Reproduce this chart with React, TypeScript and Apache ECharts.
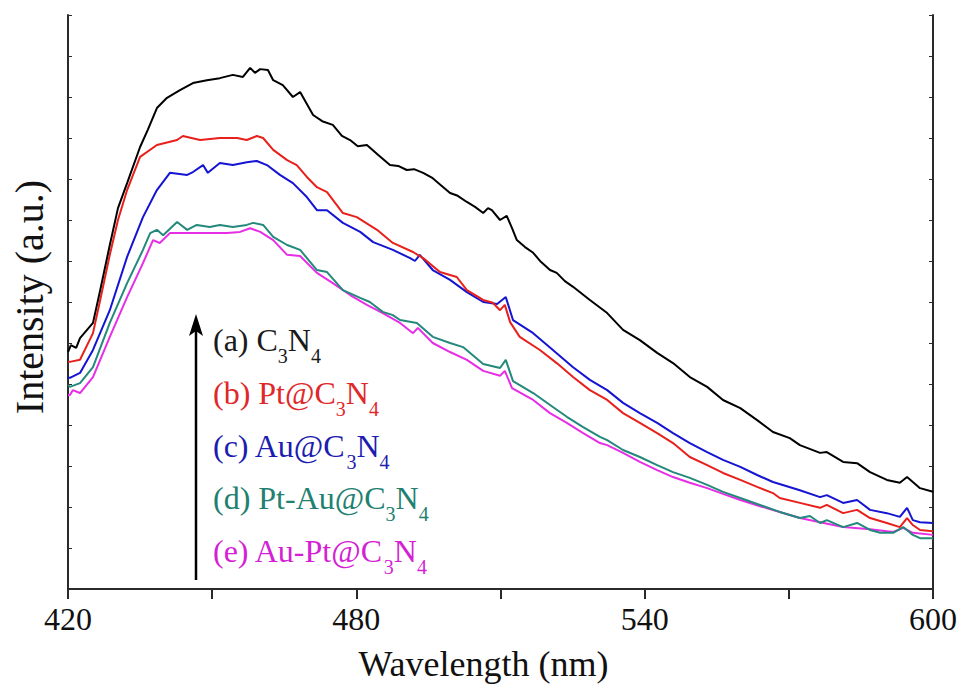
import React, { useEffect, useRef } from 'react';
import * as echarts from 'echarts';

// x-axis tick labels (nm)
const xTickLabels = [420, 480, 540, 600];

// series labels
const seriesLabels = ['(a) C3N4', '(b) Pt@C3N4', '(c) Au@C3N4', '(d) Pt-Au@C3N4', '(e) Au-Pt@C3N4'];

// (a) C3N4
const wlA = [420, 420.6, 421.7, 422.5, 425.2, 426.7, 428.7, 430.4, 432.3, 435.0, 436.6, 438.5, 440.6, 443.3, 446.0, 448.9, 451.6, 454.3, 456.4, 457.9, 458.9, 460.0, 461.6, 462.7, 464.7, 466.8, 468.3, 471.0, 472.9, 475.1, 477.0, 478.7, 480.3, 482.2, 484.5, 487.0, 488.7, 490.5, 492.0, 493.9, 495.9, 497.6, 499.5, 501.1, 503.0, 504.7, 506.4, 507.4, 508.2, 509.9, 511.3, 512.4, 513.4, 515.1, 516.8, 518.4, 520.3, 521.7, 523.4, 525.1, 528.6, 532.2, 535.5, 539.0, 542.6, 545.9, 549.4, 553.0, 556.3, 559.9, 563.4, 566.7, 570.2, 572.3, 576.5, 577.9, 581.3, 584.2, 586.9, 590.4, 593.1, 594.6, 595.8, 597.3, 600];
const intA = [5.78, 5.95, 5.88, 6.12, 6.49, 7.29, 8.39, 9.29, 9.90, 10.78, 11.20, 11.73, 11.98, 12.17, 12.34, 12.41, 12.46, 12.54, 12.49, 12.71, 12.59, 12.68, 12.66, 12.41, 12.29, 12.00, 12.12, 11.56, 11.41, 11.32, 11.05, 10.95, 10.80, 10.83, 10.59, 10.34, 10.32, 10.22, 10.24, 10.15, 10.02, 9.85, 9.66, 9.59, 9.44, 9.32, 9.17, 9.29, 9.24, 9.00, 9.10, 8.80, 8.51, 8.34, 8.20, 7.98, 7.78, 7.71, 7.51, 7.37, 7.05, 6.73, 6.32, 6.07, 5.76, 5.51, 5.17, 4.93, 4.61, 4.41, 4.12, 3.83, 3.68, 3.51, 3.32, 3.34, 3.10, 3.07, 2.85, 2.66, 2.59, 2.73, 2.61, 2.46, 2.37];

// (b) Pt@C3N4
const wlB = [420, 420.4, 422.5, 425.2, 426.7, 428.7, 430.4, 432.3, 435.0, 438.5, 442.7, 443.9, 447.5, 451.6, 455.2, 457.2, 459.3, 460.6, 462.7, 465.6, 467.6, 469.7, 471.8, 473.9, 477.2, 480.1, 484.3, 487.6, 491.8, 493.9, 497.4, 500.9, 503.0, 506.4, 508.4, 509.9, 510.9, 512.0, 514.0, 518.2, 521.7, 525.1, 528.6, 532.2, 535.5, 539.0, 542.6, 545.9, 549.4, 553.0, 556.3, 559.9, 563.4, 566.7, 568.1, 572.3, 576.5, 577.9, 581.3, 584.2, 586.9, 590.4, 593.1, 594.6, 595.8, 597.3, 600];
const intB = [5.54, 5.54, 5.59, 6.24, 7.05, 8.15, 9.00, 9.73, 10.54, 10.83, 10.95, 11.05, 10.95, 11.00, 11.00, 10.95, 11.05, 11.00, 10.71, 10.46, 10.34, 10.05, 9.80, 9.68, 9.17, 9.07, 8.76, 8.44, 8.22, 8.07, 7.73, 7.61, 7.29, 7.05, 6.98, 6.80, 6.93, 6.51, 6.15, 5.83, 5.51, 5.17, 4.85, 4.61, 4.29, 4.05, 3.80, 3.56, 3.22, 3.02, 2.83, 2.66, 2.49, 2.34, 2.22, 2.10, 1.98, 2.05, 1.85, 1.93, 1.73, 1.61, 1.51, 1.73, 1.56, 1.44, 1.41];

// (c) Au@C3N4
const wlC = [420, 420.4, 422.5, 425.2, 428.7, 432.3, 435.6, 438.5, 441.2, 444.8, 446.0, 448.1, 449.1, 451.6, 454.3, 457.2, 459.3, 461.4, 464.1, 466.8, 469.7, 471.8, 473.9, 477.2, 480.8, 483.5, 487.6, 491.2, 492.2, 493.2, 495.9, 499.5, 503.0, 506.4, 509.3, 511.1, 512.6, 516.8, 520.9, 525.1, 528.6, 532.2, 535.5, 539.0, 542.6, 545.9, 549.4, 553.0, 556.3, 559.9, 563.4, 566.7, 572.3, 576.5, 577.9, 581.3, 584.2, 586.9, 590.4, 593.1, 594.6, 595.8, 597.3, 600];
const intC = [5.15, 5.15, 5.27, 5.83, 6.80, 8.10, 9.07, 9.73, 10.15, 10.10, 10.17, 10.34, 10.15, 10.39, 10.34, 10.41, 10.44, 10.34, 10.10, 9.90, 9.56, 9.24, 9.24, 8.93, 8.71, 8.46, 8.27, 8.07, 8.00, 8.15, 7.78, 7.54, 7.24, 7.00, 6.95, 7.12, 6.56, 6.24, 5.83, 5.41, 5.10, 4.85, 4.54, 4.29, 4.05, 3.80, 3.56, 3.34, 3.15, 2.98, 2.78, 2.61, 2.41, 2.24, 2.29, 2.10, 2.17, 1.93, 1.85, 1.76, 1.98, 1.68, 1.63, 1.61];

// (d) Pt-Au@C3N4
const wlD = [420, 420.4, 422.5, 425.2, 428.7, 432.3, 435.6, 437.1, 438.5, 439.8, 442.7, 444.8, 446.8, 449.5, 451.6, 454.3, 457.2, 458.5, 460.6, 462.7, 465.6, 468.3, 471.8, 473.9, 477.2, 480.8, 482.8, 485.5, 487.6, 489.1, 492.6, 495.9, 499.5, 502.2, 506.4, 509.9, 511.1, 512.6, 516.8, 520.9, 523.8, 527.2, 530.7, 532.2, 535.5, 539.0, 542.6, 545.9, 549.4, 553.0, 556.3, 559.9, 564.0, 568.1, 572.3, 574.4, 576.5, 577.9, 581.3, 584.2, 586.9, 589.0, 591.7, 593.8, 595.8, 597.3, 600];
const intD = [4.98, 4.93, 5.02, 5.41, 6.49, 7.46, 8.27, 8.68, 8.76, 8.63, 8.95, 8.76, 8.88, 8.83, 8.88, 8.83, 8.88, 8.93, 8.88, 8.59, 8.39, 8.27, 7.78, 7.73, 7.29, 7.10, 7.00, 6.76, 6.68, 6.56, 6.49, 6.15, 6.00, 5.90, 5.49, 5.39, 5.59, 5.07, 4.78, 4.44, 4.20, 3.95, 3.71, 3.63, 3.39, 3.22, 3.02, 2.85, 2.71, 2.54, 2.37, 2.22, 2.05, 1.88, 1.73, 1.78, 1.61, 1.68, 1.51, 1.61, 1.44, 1.37, 1.37, 1.51, 1.32, 1.24, 1.24];

// (e) Au-Pt@C3N4
const wlE = [420, 420.4, 421.0, 422.5, 425.2, 428.7, 432.3, 435.6, 437.7, 439.1, 441.2, 444.8, 448.1, 453.1, 455.8, 457.9, 460.0, 462.7, 465.6, 468.3, 471.8, 475.1, 478.7, 482.2, 485.5, 489.1, 491.8, 492.8, 495.9, 499.5, 503.0, 506.4, 509.9, 510.9, 512.4, 516.8, 520.3, 523.8, 527.2, 530.7, 532.2, 535.5, 539.0, 542.6, 545.9, 549.4, 553.0, 556.3, 559.9, 564.0, 568.1, 572.3, 576.5, 581.3, 586.9, 591.7, 593.8, 595.8, 600];
const intE = [4.73, 4.73, 4.85, 4.78, 5.17, 6.15, 7.12, 7.95, 8.51, 8.44, 8.68, 8.68, 8.68, 8.68, 8.71, 8.80, 8.71, 8.51, 8.15, 8.12, 7.71, 7.46, 7.17, 6.93, 6.73, 6.49, 6.24, 6.37, 6.00, 5.78, 5.59, 5.32, 5.20, 5.32, 4.90, 4.61, 4.29, 4.05, 3.80, 3.56, 3.51, 3.32, 3.10, 2.90, 2.73, 2.59, 2.46, 2.32, 2.17, 2.02, 1.88, 1.73, 1.63, 1.51, 1.46, 1.39, 1.49, 1.37, 1.32];

const lineColors = ['#000000', '#e8201c', '#1414d2', '#23897b', '#e62ee6'];
const textColors = ['#1a1a1a', '#e0282a', '#1c1cb0', '#21806f', '#d41fd4'];

export default function App() {
  const ref = useRef<HTMLDivElement>(null);
  useEffect(() => {
    document.body.style.margin = '0';
    const chart = echarts.init(ref.current as HTMLDivElement, null, { renderer: 'svg' });
    const serif = '"Liberation Serif", "DejaVu Serif", "Times New Roman", serif';
    const zip = (w: number[], v: number[]) => w.map((x, i) => [x, v[i]]);
    const dataSets = [zip(wlA, intA), zip(wlB, intB), zip(wlC, intC), zip(wlD, intD), zip(wlE, intE)];

    const legendY = [340, 393, 446, 498, 551];
    const legendTexts = seriesLabels.map((lab, i) => ({
      type: 'text',
      x: 213,
      y: legendY[i],
      z: 100,
      style: {
        text: '{m|' + lab.replace(/(\d)/g, '}{s|$1}{m|') + '}',
        align: 'left',
        verticalAlign: 'middle',
        rich: {
          m: { fontSize: 32, fontFamily: serif, fill: textColors[i], lineHeight: 52 },
          s: { fontSize: 20, fontFamily: serif, fill: textColors[i], padding: [32, 0, 0, 0] },
        },
      },
    }));

    const axisLine = { show: true, lineStyle: { color: '#2a2a2a', width: 2 } };
    const series = [4, 3, 2, 1, 0].map((i) => ({
      name: seriesLabels[i],
      type: 'line',
      data: dataSets[i],
      showSymbol: false,
      symbol: 'none',
      smooth: false,
      lineStyle: { color: lineColors[i], width: 2 },
      itemStyle: { color: lineColors[i] },
      z: 10 + (4 - i),
    }));

    chart.setOption({
      animation: false,
      backgroundColor: '#ffffff',
      grid: { left: 68, right: 29, top: 15, bottom: 95, containLabel: false, outerBoundsMode: 'none' },
      xAxis: [
        {
          type: 'value',
          min: 420,
          max: 600,
          interval: 30,
          position: 'bottom',
          name: 'Wavelength (nm)',
          nameLocation: 'middle',
          nameGap: 57,
          nameTextStyle: { fontSize: 36, fontFamily: serif, color: '#111', padding: [0, 34, 0, 0] },
          axisLine,
          axisTick: { show: true, inside: false, length: 10, lineStyle: { color: '#2a2a2a', width: 2 } },
          axisLabel: {
            fontSize: 32,
            fontFamily: serif,
            color: '#111',
            margin: 14,
            formatter: (v: number) => (xTickLabels.includes(v) ? String(v) : ''),
          },
          splitLine: { show: false },
        },
        {
          type: 'value',
          min: 420,
          max: 600,
          interval: 30,
          position: 'top',
          axisLine,
          axisTick: { show: true, inside: true, length: 3, lineStyle: { color: '#2a2a2a', width: 1 } },
          axisLabel: { show: false },
          splitLine: { show: false },
        },
      ],
      yAxis: [
        {
          type: 'value',
          min: 0,
          max: 14,
          interval: 1,
          position: 'left',
          name: 'Intensity (a.u.)',
          nameLocation: 'middle',
          nameGap: 19,
          nameTextStyle: { fontSize: 40, fontFamily: serif, color: '#111', padding: [0, 0, 0, 10] },
          axisLine,
          axisTick: { show: true, inside: true, length: 4, lineStyle: { color: '#2a2a2a', width: 1 } },
          axisLabel: { show: false },
          splitLine: { show: false },
        },
        {
          type: 'value',
          min: 0,
          max: 14,
          interval: 1,
          position: 'right',
          axisLine,
          axisTick: { show: true, inside: true, length: 4, lineStyle: { color: '#2a2a2a', width: 1 } },
          axisLabel: { show: false },
          splitLine: { show: false },
        },
      ],
      series,
      graphic: [
        {
          type: 'line',
          z: 100,
          shape: { x1: 196, y1: 580, x2: 196, y2: 326 },
          style: { stroke: '#000', lineWidth: 2.5 },
        },
        {
          type: 'polygon',
          z: 100,
          shape: { points: [[196, 314], [189, 336], [196, 331], [203, 336]] },
          style: { fill: '#000' },
        },
        ...legendTexts,
      ],
    });
    return () => chart.dispose();
  }, []);
  return <div ref={ref} style={{ width: 962, height: 684 }} />;
}
